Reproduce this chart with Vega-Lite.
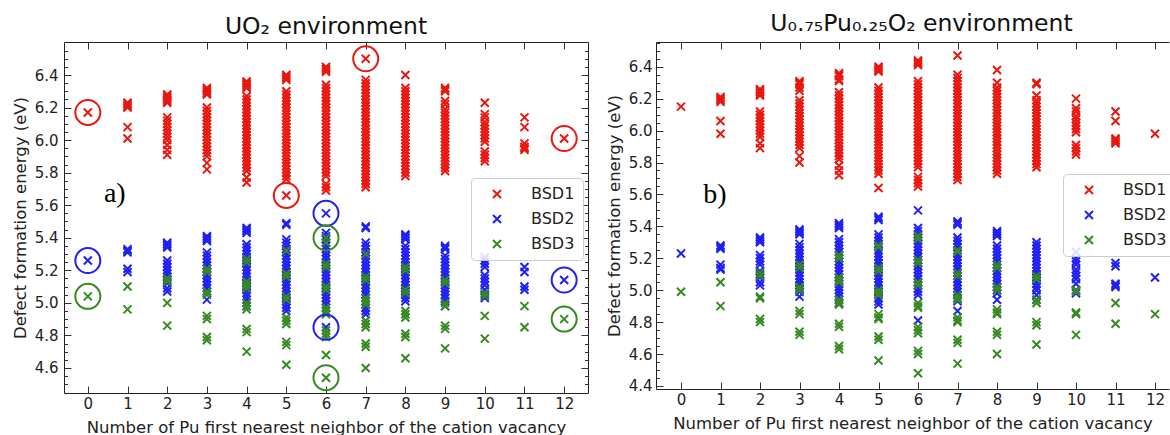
{
  "$schema": "https://vega.github.io/schema/vega-lite/v6.json",
  "background": "white",
  "padding": {"left": 12, "top": 12, "right": 0, "bottom": 0},
  "autosize": {"type": "pad"},
  "bounds": "flush",
  "spacing": 68,
  "config": {
    "view": {"stroke": null},
    "font": "DejaVu Sans",
    "axis": {"domainColor": "#222", "domainWidth": 1, "tickColor": "#333", "tickWidth": 1, "labelColor": "#222", "titleColor": "#222", "grid": false, "labelFont": "DejaVu Sans", "titleFont": "DejaVu Sans", "labelFontSize": 15, "titleFontSize": 16.5, "titleFontWeight": "normal"},
    "title": {"font": "DejaVu Sans", "fontSize": 23.5, "fontWeight": "normal", "color": "#111"},
    "legend": {"labelFont": "DejaVu Sans", "labelFontSize": 16, "labelColor": "#222", "symbolType": "M-1,-1L1,1M-1,1L1,-1", "symbolSize": 64, "symbolStrokeWidth": 2, "fillColor": "rgba(255,255,255,0.85)", "strokeColor": "#cccccc", "cornerRadius": 4, "padding": 8, "rowPadding": 9, "labelOffset": 26, "symbolOffset": 10}
  },
  "resolve": {"scale": {"color": "independent", "stroke": "independent", "x": "independent", "y": "independent"}, "legend": {"color": "independent"}},
  "datasets": {
    "circ": [
      {"s":"BSD1","n":0,"E":6.17},{"s":"BSD1","n":5,"E":5.66},{"s":"BSD1","n":7,"E":6.50},{"s":"BSD1","n":12,"E":6.01},
      {"s":"BSD2","n":0,"E":5.26},{"s":"BSD2","n":6,"E":5.55},{"s":"BSD2","n":6,"E":4.85},{"s":"BSD2","n":12,"E":5.14},
      {"s":"BSD3","n":0,"E":5.04},{"s":"BSD3","n":6,"E":5.40},{"s":"BSD3","n":6,"E":4.54},{"s":"BSD3","n":12,"E":4.90}
    ],
    "labels": [{"t":"a)"}],
    "a": [
      {"s":"BSD1","n":0,"E":6.17},
      {"s":"BSD1","n":1,"E":6.23},{"s":"BSD1","n":1,"E":6.22},{"s":"BSD1","n":1,"E":6.21},{"s":"BSD1","n":1,"E":6.20},{"s":"BSD1","n":1,"E":6.08},{"s":"BSD1","n":1,"E":6.01},
      {"s":"BSD1","n":2,"E":6.28},{"s":"BSD1","n":2,"E":6.27},{"s":"BSD1","n":2,"E":6.26},{"s":"BSD1","n":2,"E":6.25},{"s":"BSD1","n":2,"E":6.24},{"s":"BSD1","n":2,"E":6.23},{"s":"BSD1","n":2,"E":6.14},{"s":"BSD1","n":2,"E":6.12},{"s":"BSD1","n":2,"E":6.10},{"s":"BSD1","n":2,"E":6.08},{"s":"BSD1","n":2,"E":6.06},{"s":"BSD1","n":2,"E":6.04},{"s":"BSD1","n":2,"E":6.02},{"s":"BSD1","n":2,"E":6.00},{"s":"BSD1","n":2,"E":5.97},{"s":"BSD1","n":2,"E":5.94},{"s":"BSD1","n":2,"E":5.91},
      {"s":"BSD1","n":3,"E":6.32},{"s":"BSD1","n":3,"E":6.31},{"s":"BSD1","n":3,"E":6.30},{"s":"BSD1","n":3,"E":6.29},{"s":"BSD1","n":3,"E":6.28},{"s":"BSD1","n":3,"E":6.20},{"s":"BSD1","n":3,"E":6.18},{"s":"BSD1","n":3,"E":6.16},{"s":"BSD1","n":3,"E":6.14},{"s":"BSD1","n":3,"E":6.12},{"s":"BSD1","n":3,"E":6.10},{"s":"BSD1","n":3,"E":6.08},{"s":"BSD1","n":3,"E":6.06},{"s":"BSD1","n":3,"E":6.04},{"s":"BSD1","n":3,"E":6.02},{"s":"BSD1","n":3,"E":6.00},{"s":"BSD1","n":3,"E":5.98},{"s":"BSD1","n":3,"E":5.96},{"s":"BSD1","n":3,"E":5.94},{"s":"BSD1","n":3,"E":5.92},{"s":"BSD1","n":3,"E":5.90},{"s":"BSD1","n":3,"E":5.86},{"s":"BSD1","n":3,"E":5.82},
      {"s":"BSD1","n":4,"E":6.36},{"s":"BSD1","n":4,"E":6.35},{"s":"BSD1","n":4,"E":6.34},{"s":"BSD1","n":4,"E":6.33},{"s":"BSD1","n":4,"E":6.32},{"s":"BSD1","n":4,"E":6.27},{"s":"BSD1","n":4,"E":6.25},{"s":"BSD1","n":4,"E":6.23},{"s":"BSD1","n":4,"E":6.21},{"s":"BSD1","n":4,"E":6.19},{"s":"BSD1","n":4,"E":6.17},{"s":"BSD1","n":4,"E":6.15},{"s":"BSD1","n":4,"E":6.13},{"s":"BSD1","n":4,"E":6.11},{"s":"BSD1","n":4,"E":6.09},{"s":"BSD1","n":4,"E":6.07},{"s":"BSD1","n":4,"E":6.05},{"s":"BSD1","n":4,"E":6.03},{"s":"BSD1","n":4,"E":6.01},{"s":"BSD1","n":4,"E":5.99},{"s":"BSD1","n":4,"E":5.97},{"s":"BSD1","n":4,"E":5.95},{"s":"BSD1","n":4,"E":5.93},{"s":"BSD1","n":4,"E":5.91},{"s":"BSD1","n":4,"E":5.89},{"s":"BSD1","n":4,"E":5.87},{"s":"BSD1","n":4,"E":5.85},{"s":"BSD1","n":4,"E":5.83},{"s":"BSD1","n":4,"E":5.81},{"s":"BSD1","n":4,"E":5.77},{"s":"BSD1","n":4,"E":5.74},
      {"s":"BSD1","n":5,"E":6.40},{"s":"BSD1","n":5,"E":6.39},{"s":"BSD1","n":5,"E":6.38},{"s":"BSD1","n":5,"E":6.37},{"s":"BSD1","n":5,"E":6.30},{"s":"BSD1","n":5,"E":6.28},{"s":"BSD1","n":5,"E":6.26},{"s":"BSD1","n":5,"E":6.24},{"s":"BSD1","n":5,"E":6.22},{"s":"BSD1","n":5,"E":6.20},{"s":"BSD1","n":5,"E":6.18},{"s":"BSD1","n":5,"E":6.16},{"s":"BSD1","n":5,"E":6.14},{"s":"BSD1","n":5,"E":6.12},{"s":"BSD1","n":5,"E":6.10},{"s":"BSD1","n":5,"E":6.08},{"s":"BSD1","n":5,"E":6.06},{"s":"BSD1","n":5,"E":6.04},{"s":"BSD1","n":5,"E":6.02},{"s":"BSD1","n":5,"E":6.00},{"s":"BSD1","n":5,"E":5.98},{"s":"BSD1","n":5,"E":5.96},{"s":"BSD1","n":5,"E":5.94},{"s":"BSD1","n":5,"E":5.92},{"s":"BSD1","n":5,"E":5.90},{"s":"BSD1","n":5,"E":5.88},{"s":"BSD1","n":5,"E":5.86},{"s":"BSD1","n":5,"E":5.84},{"s":"BSD1","n":5,"E":5.82},{"s":"BSD1","n":5,"E":5.80},{"s":"BSD1","n":5,"E":5.78},{"s":"BSD1","n":5,"E":5.76},{"s":"BSD1","n":5,"E":5.66},
      {"s":"BSD1","n":6,"E":6.45},{"s":"BSD1","n":6,"E":6.44},{"s":"BSD1","n":6,"E":6.43},{"s":"BSD1","n":6,"E":6.42},{"s":"BSD1","n":6,"E":6.34},{"s":"BSD1","n":6,"E":6.32},{"s":"BSD1","n":6,"E":6.30},{"s":"BSD1","n":6,"E":6.28},{"s":"BSD1","n":6,"E":6.26},{"s":"BSD1","n":6,"E":6.24},{"s":"BSD1","n":6,"E":6.22},{"s":"BSD1","n":6,"E":6.20},{"s":"BSD1","n":6,"E":6.18},{"s":"BSD1","n":6,"E":6.16},{"s":"BSD1","n":6,"E":6.14},{"s":"BSD1","n":6,"E":6.12},{"s":"BSD1","n":6,"E":6.10},{"s":"BSD1","n":6,"E":6.08},{"s":"BSD1","n":6,"E":6.06},{"s":"BSD1","n":6,"E":6.04},{"s":"BSD1","n":6,"E":6.02},{"s":"BSD1","n":6,"E":6.00},{"s":"BSD1","n":6,"E":5.98},{"s":"BSD1","n":6,"E":5.96},{"s":"BSD1","n":6,"E":5.94},{"s":"BSD1","n":6,"E":5.92},{"s":"BSD1","n":6,"E":5.90},{"s":"BSD1","n":6,"E":5.88},{"s":"BSD1","n":6,"E":5.86},{"s":"BSD1","n":6,"E":5.84},{"s":"BSD1","n":6,"E":5.82},{"s":"BSD1","n":6,"E":5.80},{"s":"BSD1","n":6,"E":5.78},{"s":"BSD1","n":6,"E":5.73},{"s":"BSD1","n":6,"E":5.71},{"s":"BSD1","n":6,"E":5.69},
      {"s":"BSD1","n":7,"E":6.50},{"s":"BSD1","n":7,"E":6.37},{"s":"BSD1","n":7,"E":6.35},{"s":"BSD1","n":7,"E":6.33},{"s":"BSD1","n":7,"E":6.31},{"s":"BSD1","n":7,"E":6.29},{"s":"BSD1","n":7,"E":6.27},{"s":"BSD1","n":7,"E":6.25},{"s":"BSD1","n":7,"E":6.23},{"s":"BSD1","n":7,"E":6.21},{"s":"BSD1","n":7,"E":6.19},{"s":"BSD1","n":7,"E":6.17},{"s":"BSD1","n":7,"E":6.15},{"s":"BSD1","n":7,"E":6.13},{"s":"BSD1","n":7,"E":6.11},{"s":"BSD1","n":7,"E":6.09},{"s":"BSD1","n":7,"E":6.07},{"s":"BSD1","n":7,"E":6.05},{"s":"BSD1","n":7,"E":6.03},{"s":"BSD1","n":7,"E":6.01},{"s":"BSD1","n":7,"E":5.99},{"s":"BSD1","n":7,"E":5.97},{"s":"BSD1","n":7,"E":5.95},{"s":"BSD1","n":7,"E":5.93},{"s":"BSD1","n":7,"E":5.91},{"s":"BSD1","n":7,"E":5.89},{"s":"BSD1","n":7,"E":5.87},{"s":"BSD1","n":7,"E":5.85},{"s":"BSD1","n":7,"E":5.83},{"s":"BSD1","n":7,"E":5.81},{"s":"BSD1","n":7,"E":5.79},{"s":"BSD1","n":7,"E":5.77},{"s":"BSD1","n":7,"E":5.75},{"s":"BSD1","n":7,"E":5.73},{"s":"BSD1","n":7,"E":5.71},
      {"s":"BSD1","n":8,"E":6.40},{"s":"BSD1","n":8,"E":6.32},{"s":"BSD1","n":8,"E":6.30},{"s":"BSD1","n":8,"E":6.28},{"s":"BSD1","n":8,"E":6.26},{"s":"BSD1","n":8,"E":6.24},{"s":"BSD1","n":8,"E":6.22},{"s":"BSD1","n":8,"E":6.20},{"s":"BSD1","n":8,"E":6.18},{"s":"BSD1","n":8,"E":6.16},{"s":"BSD1","n":8,"E":6.14},{"s":"BSD1","n":8,"E":6.12},{"s":"BSD1","n":8,"E":6.10},{"s":"BSD1","n":8,"E":6.08},{"s":"BSD1","n":8,"E":6.06},{"s":"BSD1","n":8,"E":6.04},{"s":"BSD1","n":8,"E":6.02},{"s":"BSD1","n":8,"E":6.00},{"s":"BSD1","n":8,"E":5.98},{"s":"BSD1","n":8,"E":5.96},{"s":"BSD1","n":8,"E":5.94},{"s":"BSD1","n":8,"E":5.92},{"s":"BSD1","n":8,"E":5.90},{"s":"BSD1","n":8,"E":5.88},{"s":"BSD1","n":8,"E":5.86},{"s":"BSD1","n":8,"E":5.84},{"s":"BSD1","n":8,"E":5.82},{"s":"BSD1","n":8,"E":5.80},{"s":"BSD1","n":8,"E":5.78},
      {"s":"BSD1","n":9,"E":6.32},{"s":"BSD1","n":9,"E":6.31},{"s":"BSD1","n":9,"E":6.30},{"s":"BSD1","n":9,"E":6.24},{"s":"BSD1","n":9,"E":6.22},{"s":"BSD1","n":9,"E":6.19},{"s":"BSD1","n":9,"E":6.17},{"s":"BSD1","n":9,"E":6.15},{"s":"BSD1","n":9,"E":6.13},{"s":"BSD1","n":9,"E":6.11},{"s":"BSD1","n":9,"E":6.09},{"s":"BSD1","n":9,"E":6.07},{"s":"BSD1","n":9,"E":6.05},{"s":"BSD1","n":9,"E":6.03},{"s":"BSD1","n":9,"E":6.01},{"s":"BSD1","n":9,"E":5.99},{"s":"BSD1","n":9,"E":5.97},{"s":"BSD1","n":9,"E":5.95},{"s":"BSD1","n":9,"E":5.93},{"s":"BSD1","n":9,"E":5.91},{"s":"BSD1","n":9,"E":5.89},{"s":"BSD1","n":9,"E":5.87},{"s":"BSD1","n":9,"E":5.85},{"s":"BSD1","n":9,"E":5.83},{"s":"BSD1","n":9,"E":5.81},
      {"s":"BSD1","n":10,"E":6.23},{"s":"BSD1","n":10,"E":6.16},{"s":"BSD1","n":10,"E":6.14},{"s":"BSD1","n":10,"E":6.11},{"s":"BSD1","n":10,"E":6.09},{"s":"BSD1","n":10,"E":6.07},{"s":"BSD1","n":10,"E":6.05},{"s":"BSD1","n":10,"E":6.03},{"s":"BSD1","n":10,"E":6.01},{"s":"BSD1","n":10,"E":5.99},{"s":"BSD1","n":10,"E":5.93},{"s":"BSD1","n":10,"E":5.91},{"s":"BSD1","n":10,"E":5.89},{"s":"BSD1","n":10,"E":5.87},
      {"s":"BSD1","n":11,"E":6.14},{"s":"BSD1","n":11,"E":6.08},{"s":"BSD1","n":11,"E":5.98},{"s":"BSD1","n":11,"E":5.96},{"s":"BSD1","n":11,"E":5.95},{"s":"BSD1","n":11,"E":5.94},
      {"s":"BSD1","n":12,"E":6.01},
      {"s":"BSD2","n":0,"E":5.26},
      {"s":"BSD2","n":1,"E":5.33},{"s":"BSD2","n":1,"E":5.32},{"s":"BSD2","n":1,"E":5.31},{"s":"BSD2","n":1,"E":5.21},{"s":"BSD2","n":1,"E":5.19},
      {"s":"BSD2","n":2,"E":5.37},{"s":"BSD2","n":2,"E":5.36},{"s":"BSD2","n":2,"E":5.35},{"s":"BSD2","n":2,"E":5.34},{"s":"BSD2","n":2,"E":5.26},{"s":"BSD2","n":2,"E":5.24},{"s":"BSD2","n":2,"E":5.22},{"s":"BSD2","n":2,"E":5.20},{"s":"BSD2","n":2,"E":5.18},{"s":"BSD2","n":2,"E":5.16},{"s":"BSD2","n":2,"E":5.14},{"s":"BSD2","n":2,"E":5.12},{"s":"BSD2","n":2,"E":5.09},{"s":"BSD2","n":2,"E":5.07},
      {"s":"BSD2","n":3,"E":5.41},{"s":"BSD2","n":3,"E":5.40},{"s":"BSD2","n":3,"E":5.39},{"s":"BSD2","n":3,"E":5.38},{"s":"BSD2","n":3,"E":5.31},{"s":"BSD2","n":3,"E":5.29},{"s":"BSD2","n":3,"E":5.27},{"s":"BSD2","n":3,"E":5.25},{"s":"BSD2","n":3,"E":5.23},{"s":"BSD2","n":3,"E":5.21},{"s":"BSD2","n":3,"E":5.19},{"s":"BSD2","n":3,"E":5.17},{"s":"BSD2","n":3,"E":5.15},{"s":"BSD2","n":3,"E":5.13},{"s":"BSD2","n":3,"E":5.11},{"s":"BSD2","n":3,"E":5.09},{"s":"BSD2","n":3,"E":5.07},{"s":"BSD2","n":3,"E":5.02},
      {"s":"BSD2","n":4,"E":5.46},{"s":"BSD2","n":4,"E":5.45},{"s":"BSD2","n":4,"E":5.44},{"s":"BSD2","n":4,"E":5.43},{"s":"BSD2","n":4,"E":5.36},{"s":"BSD2","n":4,"E":5.34},{"s":"BSD2","n":4,"E":5.32},{"s":"BSD2","n":4,"E":5.30},{"s":"BSD2","n":4,"E":5.28},{"s":"BSD2","n":4,"E":5.26},{"s":"BSD2","n":4,"E":5.24},{"s":"BSD2","n":4,"E":5.22},{"s":"BSD2","n":4,"E":5.20},{"s":"BSD2","n":4,"E":5.18},{"s":"BSD2","n":4,"E":5.16},{"s":"BSD2","n":4,"E":5.14},{"s":"BSD2","n":4,"E":5.12},{"s":"BSD2","n":4,"E":5.10},{"s":"BSD2","n":4,"E":5.08},{"s":"BSD2","n":4,"E":5.06},{"s":"BSD2","n":4,"E":5.04},{"s":"BSD2","n":4,"E":5.02},{"s":"BSD2","n":4,"E":5.00},{"s":"BSD2","n":4,"E":4.98},
      {"s":"BSD2","n":5,"E":5.49},{"s":"BSD2","n":5,"E":5.48},{"s":"BSD2","n":5,"E":5.39},{"s":"BSD2","n":5,"E":5.37},{"s":"BSD2","n":5,"E":5.35},{"s":"BSD2","n":5,"E":5.33},{"s":"BSD2","n":5,"E":5.31},{"s":"BSD2","n":5,"E":5.29},{"s":"BSD2","n":5,"E":5.27},{"s":"BSD2","n":5,"E":5.25},{"s":"BSD2","n":5,"E":5.23},{"s":"BSD2","n":5,"E":5.21},{"s":"BSD2","n":5,"E":5.19},{"s":"BSD2","n":5,"E":5.17},{"s":"BSD2","n":5,"E":5.15},{"s":"BSD2","n":5,"E":5.13},{"s":"BSD2","n":5,"E":5.11},{"s":"BSD2","n":5,"E":5.09},{"s":"BSD2","n":5,"E":5.07},{"s":"BSD2","n":5,"E":5.05},{"s":"BSD2","n":5,"E":5.03},{"s":"BSD2","n":5,"E":5.01},{"s":"BSD2","n":5,"E":4.99},{"s":"BSD2","n":5,"E":4.97},{"s":"BSD2","n":5,"E":4.95},
      {"s":"BSD2","n":6,"E":5.55},{"s":"BSD2","n":6,"E":5.43},{"s":"BSD2","n":6,"E":5.41},{"s":"BSD2","n":6,"E":5.39},{"s":"BSD2","n":6,"E":5.37},{"s":"BSD2","n":6,"E":5.35},{"s":"BSD2","n":6,"E":5.33},{"s":"BSD2","n":6,"E":5.31},{"s":"BSD2","n":6,"E":5.29},{"s":"BSD2","n":6,"E":5.27},{"s":"BSD2","n":6,"E":5.25},{"s":"BSD2","n":6,"E":5.23},{"s":"BSD2","n":6,"E":5.21},{"s":"BSD2","n":6,"E":5.19},{"s":"BSD2","n":6,"E":5.17},{"s":"BSD2","n":6,"E":5.15},{"s":"BSD2","n":6,"E":5.13},{"s":"BSD2","n":6,"E":5.11},{"s":"BSD2","n":6,"E":5.09},{"s":"BSD2","n":6,"E":5.07},{"s":"BSD2","n":6,"E":5.05},{"s":"BSD2","n":6,"E":5.03},{"s":"BSD2","n":6,"E":5.01},{"s":"BSD2","n":6,"E":4.99},{"s":"BSD2","n":6,"E":4.97},{"s":"BSD2","n":6,"E":4.85},
      {"s":"BSD2","n":7,"E":5.47},{"s":"BSD2","n":7,"E":5.46},{"s":"BSD2","n":7,"E":5.37},{"s":"BSD2","n":7,"E":5.35},{"s":"BSD2","n":7,"E":5.33},{"s":"BSD2","n":7,"E":5.31},{"s":"BSD2","n":7,"E":5.29},{"s":"BSD2","n":7,"E":5.27},{"s":"BSD2","n":7,"E":5.25},{"s":"BSD2","n":7,"E":5.23},{"s":"BSD2","n":7,"E":5.21},{"s":"BSD2","n":7,"E":5.19},{"s":"BSD2","n":7,"E":5.17},{"s":"BSD2","n":7,"E":5.15},{"s":"BSD2","n":7,"E":5.13},{"s":"BSD2","n":7,"E":5.11},{"s":"BSD2","n":7,"E":5.09},{"s":"BSD2","n":7,"E":5.07},{"s":"BSD2","n":7,"E":5.05},{"s":"BSD2","n":7,"E":5.03},{"s":"BSD2","n":7,"E":5.01},{"s":"BSD2","n":7,"E":4.99},{"s":"BSD2","n":7,"E":4.97},{"s":"BSD2","n":7,"E":4.95},{"s":"BSD2","n":7,"E":4.93},
      {"s":"BSD2","n":8,"E":5.42},{"s":"BSD2","n":8,"E":5.41},{"s":"BSD2","n":8,"E":5.40},{"s":"BSD2","n":8,"E":5.39},{"s":"BSD2","n":8,"E":5.35},{"s":"BSD2","n":8,"E":5.33},{"s":"BSD2","n":8,"E":5.31},{"s":"BSD2","n":8,"E":5.29},{"s":"BSD2","n":8,"E":5.27},{"s":"BSD2","n":8,"E":5.25},{"s":"BSD2","n":8,"E":5.23},{"s":"BSD2","n":8,"E":5.21},{"s":"BSD2","n":8,"E":5.19},{"s":"BSD2","n":8,"E":5.17},{"s":"BSD2","n":8,"E":5.15},{"s":"BSD2","n":8,"E":5.13},{"s":"BSD2","n":8,"E":5.11},{"s":"BSD2","n":8,"E":5.09},{"s":"BSD2","n":8,"E":5.07},{"s":"BSD2","n":8,"E":5.05},{"s":"BSD2","n":8,"E":5.03},{"s":"BSD2","n":8,"E":5.01},
      {"s":"BSD2","n":9,"E":5.35},{"s":"BSD2","n":9,"E":5.34},{"s":"BSD2","n":9,"E":5.33},{"s":"BSD2","n":9,"E":5.29},{"s":"BSD2","n":9,"E":5.27},{"s":"BSD2","n":9,"E":5.25},{"s":"BSD2","n":9,"E":5.23},{"s":"BSD2","n":9,"E":5.21},{"s":"BSD2","n":9,"E":5.19},{"s":"BSD2","n":9,"E":5.17},{"s":"BSD2","n":9,"E":5.15},{"s":"BSD2","n":9,"E":5.13},{"s":"BSD2","n":9,"E":5.11},{"s":"BSD2","n":9,"E":5.09},{"s":"BSD2","n":9,"E":5.07},{"s":"BSD2","n":9,"E":5.05},{"s":"BSD2","n":9,"E":5.03},{"s":"BSD2","n":9,"E":5.01},{"s":"BSD2","n":9,"E":4.98},
      {"s":"BSD2","n":10,"E":5.28},{"s":"BSD2","n":10,"E":5.26},{"s":"BSD2","n":10,"E":5.24},{"s":"BSD2","n":10,"E":5.22},{"s":"BSD2","n":10,"E":5.17},{"s":"BSD2","n":10,"E":5.15},{"s":"BSD2","n":10,"E":5.13},{"s":"BSD2","n":10,"E":5.11},{"s":"BSD2","n":10,"E":5.08},{"s":"BSD2","n":10,"E":5.05},{"s":"BSD2","n":10,"E":5.03},
      {"s":"BSD2","n":11,"E":5.22},{"s":"BSD2","n":11,"E":5.19},{"s":"BSD2","n":11,"E":5.10},{"s":"BSD2","n":11,"E":5.08},
      {"s":"BSD2","n":12,"E":5.14},
      {"s":"BSD3","n":0,"E":5.04},
      {"s":"BSD3","n":1,"E":5.10},{"s":"BSD3","n":1,"E":4.96},
      {"s":"BSD3","n":2,"E":5.15},{"s":"BSD3","n":2,"E":5.13},{"s":"BSD3","n":2,"E":5.00},{"s":"BSD3","n":2,"E":4.86},
      {"s":"BSD3","n":3,"E":5.21},{"s":"BSD3","n":3,"E":5.19},{"s":"BSD3","n":3,"E":5.07},{"s":"BSD3","n":3,"E":5.05},{"s":"BSD3","n":3,"E":4.92},{"s":"BSD3","n":3,"E":4.90},{"s":"BSD3","n":3,"E":4.79},{"s":"BSD3","n":3,"E":4.77},
      {"s":"BSD3","n":4,"E":5.27},{"s":"BSD3","n":4,"E":5.25},{"s":"BSD3","n":4,"E":5.13},{"s":"BSD3","n":4,"E":5.11},{"s":"BSD3","n":4,"E":5.09},{"s":"BSD3","n":4,"E":5.00},{"s":"BSD3","n":4,"E":4.98},{"s":"BSD3","n":4,"E":4.96},{"s":"BSD3","n":4,"E":4.84},{"s":"BSD3","n":4,"E":4.82},{"s":"BSD3","n":4,"E":4.70},
      {"s":"BSD3","n":5,"E":5.32},{"s":"BSD3","n":5,"E":5.18},{"s":"BSD3","n":5,"E":5.16},{"s":"BSD3","n":5,"E":5.04},{"s":"BSD3","n":5,"E":5.02},{"s":"BSD3","n":5,"E":4.91},{"s":"BSD3","n":5,"E":4.89},{"s":"BSD3","n":5,"E":4.87},{"s":"BSD3","n":5,"E":4.76},{"s":"BSD3","n":5,"E":4.74},{"s":"BSD3","n":5,"E":4.62},
      {"s":"BSD3","n":6,"E":5.40},{"s":"BSD3","n":6,"E":5.37},{"s":"BSD3","n":6,"E":5.24},{"s":"BSD3","n":6,"E":5.22},{"s":"BSD3","n":6,"E":5.10},{"s":"BSD3","n":6,"E":5.08},{"s":"BSD3","n":6,"E":4.97},{"s":"BSD3","n":6,"E":4.95},{"s":"BSD3","n":6,"E":4.93},{"s":"BSD3","n":6,"E":4.83},{"s":"BSD3","n":6,"E":4.81},{"s":"BSD3","n":6,"E":4.79},{"s":"BSD3","n":6,"E":4.68},{"s":"BSD3","n":6,"E":4.54},
      {"s":"BSD3","n":7,"E":5.30},{"s":"BSD3","n":7,"E":5.16},{"s":"BSD3","n":7,"E":5.14},{"s":"BSD3","n":7,"E":5.03},{"s":"BSD3","n":7,"E":5.01},{"s":"BSD3","n":7,"E":4.99},{"s":"BSD3","n":7,"E":4.89},{"s":"BSD3","n":7,"E":4.87},{"s":"BSD3","n":7,"E":4.85},{"s":"BSD3","n":7,"E":4.75},{"s":"BSD3","n":7,"E":4.73},{"s":"BSD3","n":7,"E":4.60},
      {"s":"BSD3","n":8,"E":5.22},{"s":"BSD3","n":8,"E":5.20},{"s":"BSD3","n":8,"E":5.08},{"s":"BSD3","n":8,"E":5.06},{"s":"BSD3","n":8,"E":4.95},{"s":"BSD3","n":8,"E":4.93},{"s":"BSD3","n":8,"E":4.91},{"s":"BSD3","n":8,"E":4.81},{"s":"BSD3","n":8,"E":4.79},{"s":"BSD3","n":8,"E":4.66},
      {"s":"BSD3","n":9,"E":5.14},{"s":"BSD3","n":9,"E":5.12},{"s":"BSD3","n":9,"E":5.00},{"s":"BSD3","n":9,"E":4.98},{"s":"BSD3","n":9,"E":4.86},{"s":"BSD3","n":9,"E":4.84},{"s":"BSD3","n":9,"E":4.72},
      {"s":"BSD3","n":10,"E":5.06},{"s":"BSD3","n":10,"E":5.04},{"s":"BSD3","n":10,"E":4.92},{"s":"BSD3","n":10,"E":4.78},
      {"s":"BSD3","n":11,"E":4.98},{"s":"BSD3","n":11,"E":4.85},
      {"s":"BSD3","n":12,"E":4.90}
    ],
    "b": [
      {"s":"BSD1","n":0,"E":6.15},
      {"s":"BSD1","n":1,"E":6.21},{"s":"BSD1","n":1,"E":6.20},{"s":"BSD1","n":1,"E":6.19},{"s":"BSD1","n":1,"E":6.18},{"s":"BSD1","n":1,"E":6.06},{"s":"BSD1","n":1,"E":5.98},
      {"s":"BSD1","n":2,"E":6.26},{"s":"BSD1","n":2,"E":6.25},{"s":"BSD1","n":2,"E":6.24},{"s":"BSD1","n":2,"E":6.23},{"s":"BSD1","n":2,"E":6.22},{"s":"BSD1","n":2,"E":6.12},{"s":"BSD1","n":2,"E":6.10},{"s":"BSD1","n":2,"E":6.08},{"s":"BSD1","n":2,"E":6.06},{"s":"BSD1","n":2,"E":6.04},{"s":"BSD1","n":2,"E":6.02},{"s":"BSD1","n":2,"E":6.00},{"s":"BSD1","n":2,"E":5.98},{"s":"BSD1","n":2,"E":5.96},{"s":"BSD1","n":2,"E":5.92},{"s":"BSD1","n":2,"E":5.89},
      {"s":"BSD1","n":3,"E":6.31},{"s":"BSD1","n":3,"E":6.30},{"s":"BSD1","n":3,"E":6.29},{"s":"BSD1","n":3,"E":6.27},{"s":"BSD1","n":3,"E":6.25},{"s":"BSD1","n":3,"E":6.19},{"s":"BSD1","n":3,"E":6.17},{"s":"BSD1","n":3,"E":6.15},{"s":"BSD1","n":3,"E":6.13},{"s":"BSD1","n":3,"E":6.11},{"s":"BSD1","n":3,"E":6.09},{"s":"BSD1","n":3,"E":6.07},{"s":"BSD1","n":3,"E":6.05},{"s":"BSD1","n":3,"E":6.03},{"s":"BSD1","n":3,"E":6.01},{"s":"BSD1","n":3,"E":5.99},{"s":"BSD1","n":3,"E":5.97},{"s":"BSD1","n":3,"E":5.95},{"s":"BSD1","n":3,"E":5.93},{"s":"BSD1","n":3,"E":5.91},{"s":"BSD1","n":3,"E":5.89},{"s":"BSD1","n":3,"E":5.84},{"s":"BSD1","n":3,"E":5.80},
      {"s":"BSD1","n":4,"E":6.36},{"s":"BSD1","n":4,"E":6.35},{"s":"BSD1","n":4,"E":6.34},{"s":"BSD1","n":4,"E":6.32},{"s":"BSD1","n":4,"E":6.31},{"s":"BSD1","n":4,"E":6.24},{"s":"BSD1","n":4,"E":6.22},{"s":"BSD1","n":4,"E":6.20},{"s":"BSD1","n":4,"E":6.18},{"s":"BSD1","n":4,"E":6.16},{"s":"BSD1","n":4,"E":6.14},{"s":"BSD1","n":4,"E":6.12},{"s":"BSD1","n":4,"E":6.10},{"s":"BSD1","n":4,"E":6.08},{"s":"BSD1","n":4,"E":6.06},{"s":"BSD1","n":4,"E":6.04},{"s":"BSD1","n":4,"E":6.02},{"s":"BSD1","n":4,"E":6.00},{"s":"BSD1","n":4,"E":5.98},{"s":"BSD1","n":4,"E":5.96},{"s":"BSD1","n":4,"E":5.94},{"s":"BSD1","n":4,"E":5.92},{"s":"BSD1","n":4,"E":5.90},{"s":"BSD1","n":4,"E":5.88},{"s":"BSD1","n":4,"E":5.86},{"s":"BSD1","n":4,"E":5.84},{"s":"BSD1","n":4,"E":5.82},{"s":"BSD1","n":4,"E":5.78},{"s":"BSD1","n":4,"E":5.75},{"s":"BSD1","n":4,"E":5.72},
      {"s":"BSD1","n":5,"E":6.40},{"s":"BSD1","n":5,"E":6.39},{"s":"BSD1","n":5,"E":6.38},{"s":"BSD1","n":5,"E":6.37},{"s":"BSD1","n":5,"E":6.27},{"s":"BSD1","n":5,"E":6.25},{"s":"BSD1","n":5,"E":6.23},{"s":"BSD1","n":5,"E":6.21},{"s":"BSD1","n":5,"E":6.19},{"s":"BSD1","n":5,"E":6.17},{"s":"BSD1","n":5,"E":6.15},{"s":"BSD1","n":5,"E":6.13},{"s":"BSD1","n":5,"E":6.11},{"s":"BSD1","n":5,"E":6.09},{"s":"BSD1","n":5,"E":6.07},{"s":"BSD1","n":5,"E":6.05},{"s":"BSD1","n":5,"E":6.03},{"s":"BSD1","n":5,"E":6.01},{"s":"BSD1","n":5,"E":5.99},{"s":"BSD1","n":5,"E":5.97},{"s":"BSD1","n":5,"E":5.95},{"s":"BSD1","n":5,"E":5.93},{"s":"BSD1","n":5,"E":5.91},{"s":"BSD1","n":5,"E":5.89},{"s":"BSD1","n":5,"E":5.87},{"s":"BSD1","n":5,"E":5.85},{"s":"BSD1","n":5,"E":5.83},{"s":"BSD1","n":5,"E":5.81},{"s":"BSD1","n":5,"E":5.79},{"s":"BSD1","n":5,"E":5.77},{"s":"BSD1","n":5,"E":5.75},{"s":"BSD1","n":5,"E":5.73},{"s":"BSD1","n":5,"E":5.64},
      {"s":"BSD1","n":6,"E":6.44},{"s":"BSD1","n":6,"E":6.43},{"s":"BSD1","n":6,"E":6.42},{"s":"BSD1","n":6,"E":6.41},{"s":"BSD1","n":6,"E":6.31},{"s":"BSD1","n":6,"E":6.29},{"s":"BSD1","n":6,"E":6.27},{"s":"BSD1","n":6,"E":6.25},{"s":"BSD1","n":6,"E":6.23},{"s":"BSD1","n":6,"E":6.21},{"s":"BSD1","n":6,"E":6.19},{"s":"BSD1","n":6,"E":6.17},{"s":"BSD1","n":6,"E":6.15},{"s":"BSD1","n":6,"E":6.13},{"s":"BSD1","n":6,"E":6.11},{"s":"BSD1","n":6,"E":6.09},{"s":"BSD1","n":6,"E":6.07},{"s":"BSD1","n":6,"E":6.05},{"s":"BSD1","n":6,"E":6.03},{"s":"BSD1","n":6,"E":6.01},{"s":"BSD1","n":6,"E":5.99},{"s":"BSD1","n":6,"E":5.97},{"s":"BSD1","n":6,"E":5.95},{"s":"BSD1","n":6,"E":5.93},{"s":"BSD1","n":6,"E":5.91},{"s":"BSD1","n":6,"E":5.89},{"s":"BSD1","n":6,"E":5.87},{"s":"BSD1","n":6,"E":5.85},{"s":"BSD1","n":6,"E":5.83},{"s":"BSD1","n":6,"E":5.81},{"s":"BSD1","n":6,"E":5.79},{"s":"BSD1","n":6,"E":5.77},{"s":"BSD1","n":6,"E":5.71},{"s":"BSD1","n":6,"E":5.69},{"s":"BSD1","n":6,"E":5.67},{"s":"BSD1","n":6,"E":5.65},
      {"s":"BSD1","n":7,"E":6.47},{"s":"BSD1","n":7,"E":6.35},{"s":"BSD1","n":7,"E":6.33},{"s":"BSD1","n":7,"E":6.31},{"s":"BSD1","n":7,"E":6.29},{"s":"BSD1","n":7,"E":6.27},{"s":"BSD1","n":7,"E":6.25},{"s":"BSD1","n":7,"E":6.23},{"s":"BSD1","n":7,"E":6.21},{"s":"BSD1","n":7,"E":6.19},{"s":"BSD1","n":7,"E":6.17},{"s":"BSD1","n":7,"E":6.15},{"s":"BSD1","n":7,"E":6.13},{"s":"BSD1","n":7,"E":6.11},{"s":"BSD1","n":7,"E":6.09},{"s":"BSD1","n":7,"E":6.07},{"s":"BSD1","n":7,"E":6.05},{"s":"BSD1","n":7,"E":6.03},{"s":"BSD1","n":7,"E":6.01},{"s":"BSD1","n":7,"E":5.99},{"s":"BSD1","n":7,"E":5.97},{"s":"BSD1","n":7,"E":5.95},{"s":"BSD1","n":7,"E":5.93},{"s":"BSD1","n":7,"E":5.91},{"s":"BSD1","n":7,"E":5.89},{"s":"BSD1","n":7,"E":5.87},{"s":"BSD1","n":7,"E":5.85},{"s":"BSD1","n":7,"E":5.83},{"s":"BSD1","n":7,"E":5.81},{"s":"BSD1","n":7,"E":5.79},{"s":"BSD1","n":7,"E":5.77},{"s":"BSD1","n":7,"E":5.75},{"s":"BSD1","n":7,"E":5.73},{"s":"BSD1","n":7,"E":5.71},{"s":"BSD1","n":7,"E":5.69},
      {"s":"BSD1","n":8,"E":6.38},{"s":"BSD1","n":8,"E":6.30},{"s":"BSD1","n":8,"E":6.27},{"s":"BSD1","n":8,"E":6.25},{"s":"BSD1","n":8,"E":6.23},{"s":"BSD1","n":8,"E":6.21},{"s":"BSD1","n":8,"E":6.19},{"s":"BSD1","n":8,"E":6.17},{"s":"BSD1","n":8,"E":6.15},{"s":"BSD1","n":8,"E":6.13},{"s":"BSD1","n":8,"E":6.11},{"s":"BSD1","n":8,"E":6.09},{"s":"BSD1","n":8,"E":6.07},{"s":"BSD1","n":8,"E":6.05},{"s":"BSD1","n":8,"E":6.03},{"s":"BSD1","n":8,"E":6.01},{"s":"BSD1","n":8,"E":5.99},{"s":"BSD1","n":8,"E":5.97},{"s":"BSD1","n":8,"E":5.95},{"s":"BSD1","n":8,"E":5.93},{"s":"BSD1","n":8,"E":5.91},{"s":"BSD1","n":8,"E":5.89},{"s":"BSD1","n":8,"E":5.87},{"s":"BSD1","n":8,"E":5.85},{"s":"BSD1","n":8,"E":5.83},{"s":"BSD1","n":8,"E":5.81},{"s":"BSD1","n":8,"E":5.79},{"s":"BSD1","n":8,"E":5.77},{"s":"BSD1","n":8,"E":5.75},{"s":"BSD1","n":8,"E":5.73},
      {"s":"BSD1","n":9,"E":6.30},{"s":"BSD1","n":9,"E":6.29},{"s":"BSD1","n":9,"E":6.22},{"s":"BSD1","n":9,"E":6.19},{"s":"BSD1","n":9,"E":6.17},{"s":"BSD1","n":9,"E":6.15},{"s":"BSD1","n":9,"E":6.13},{"s":"BSD1","n":9,"E":6.11},{"s":"BSD1","n":9,"E":6.09},{"s":"BSD1","n":9,"E":6.07},{"s":"BSD1","n":9,"E":6.05},{"s":"BSD1","n":9,"E":6.03},{"s":"BSD1","n":9,"E":6.01},{"s":"BSD1","n":9,"E":5.99},{"s":"BSD1","n":9,"E":5.97},{"s":"BSD1","n":9,"E":5.95},{"s":"BSD1","n":9,"E":5.93},{"s":"BSD1","n":9,"E":5.91},{"s":"BSD1","n":9,"E":5.89},{"s":"BSD1","n":9,"E":5.87},{"s":"BSD1","n":9,"E":5.85},{"s":"BSD1","n":9,"E":5.83},{"s":"BSD1","n":9,"E":5.81},{"s":"BSD1","n":9,"E":5.79},{"s":"BSD1","n":9,"E":5.77},
      {"s":"BSD1","n":10,"E":6.20},{"s":"BSD1","n":10,"E":6.14},{"s":"BSD1","n":10,"E":6.12},{"s":"BSD1","n":10,"E":6.09},{"s":"BSD1","n":10,"E":6.07},{"s":"BSD1","n":10,"E":6.05},{"s":"BSD1","n":10,"E":6.03},{"s":"BSD1","n":10,"E":6.01},{"s":"BSD1","n":10,"E":5.99},{"s":"BSD1","n":10,"E":5.91},{"s":"BSD1","n":10,"E":5.89},{"s":"BSD1","n":10,"E":5.87},{"s":"BSD1","n":10,"E":5.85},
      {"s":"BSD1","n":11,"E":6.12},{"s":"BSD1","n":11,"E":6.06},{"s":"BSD1","n":11,"E":5.95},{"s":"BSD1","n":11,"E":5.94},{"s":"BSD1","n":11,"E":5.93},{"s":"BSD1","n":11,"E":5.92},
      {"s":"BSD1","n":12,"E":5.98},
      {"s":"BSD2","n":0,"E":5.23},
      {"s":"BSD2","n":1,"E":5.28},{"s":"BSD2","n":1,"E":5.27},{"s":"BSD2","n":1,"E":5.26},{"s":"BSD2","n":1,"E":5.16},{"s":"BSD2","n":1,"E":5.14},{"s":"BSD2","n":1,"E":5.13},
      {"s":"BSD2","n":2,"E":5.33},{"s":"BSD2","n":2,"E":5.32},{"s":"BSD2","n":2,"E":5.31},{"s":"BSD2","n":2,"E":5.30},{"s":"BSD2","n":2,"E":5.22},{"s":"BSD2","n":2,"E":5.20},{"s":"BSD2","n":2,"E":5.18},{"s":"BSD2","n":2,"E":5.16},{"s":"BSD2","n":2,"E":5.12},{"s":"BSD2","n":2,"E":5.10},{"s":"BSD2","n":2,"E":5.08},{"s":"BSD2","n":2,"E":5.05},{"s":"BSD2","n":2,"E":5.03},
      {"s":"BSD2","n":3,"E":5.38},{"s":"BSD2","n":3,"E":5.37},{"s":"BSD2","n":3,"E":5.36},{"s":"BSD2","n":3,"E":5.35},{"s":"BSD2","n":3,"E":5.29},{"s":"BSD2","n":3,"E":5.27},{"s":"BSD2","n":3,"E":5.25},{"s":"BSD2","n":3,"E":5.23},{"s":"BSD2","n":3,"E":5.21},{"s":"BSD2","n":3,"E":5.19},{"s":"BSD2","n":3,"E":5.17},{"s":"BSD2","n":3,"E":5.15},{"s":"BSD2","n":3,"E":5.13},{"s":"BSD2","n":3,"E":5.11},{"s":"BSD2","n":3,"E":5.09},{"s":"BSD2","n":3,"E":5.07},{"s":"BSD2","n":3,"E":5.05},{"s":"BSD2","n":3,"E":5.03},{"s":"BSD2","n":3,"E":5.01},{"s":"BSD2","n":3,"E":4.99},{"s":"BSD2","n":3,"E":4.96},
      {"s":"BSD2","n":4,"E":5.42},{"s":"BSD2","n":4,"E":5.41},{"s":"BSD2","n":4,"E":5.40},{"s":"BSD2","n":4,"E":5.39},{"s":"BSD2","n":4,"E":5.32},{"s":"BSD2","n":4,"E":5.30},{"s":"BSD2","n":4,"E":5.28},{"s":"BSD2","n":4,"E":5.26},{"s":"BSD2","n":4,"E":5.24},{"s":"BSD2","n":4,"E":5.22},{"s":"BSD2","n":4,"E":5.20},{"s":"BSD2","n":4,"E":5.18},{"s":"BSD2","n":4,"E":5.16},{"s":"BSD2","n":4,"E":5.14},{"s":"BSD2","n":4,"E":5.12},{"s":"BSD2","n":4,"E":5.10},{"s":"BSD2","n":4,"E":5.08},{"s":"BSD2","n":4,"E":5.06},{"s":"BSD2","n":4,"E":5.04},{"s":"BSD2","n":4,"E":5.02},{"s":"BSD2","n":4,"E":5.00},{"s":"BSD2","n":4,"E":4.98},{"s":"BSD2","n":4,"E":4.96},{"s":"BSD2","n":4,"E":4.94},{"s":"BSD2","n":4,"E":4.92},
      {"s":"BSD2","n":5,"E":5.46},{"s":"BSD2","n":5,"E":5.45},{"s":"BSD2","n":5,"E":5.44},{"s":"BSD2","n":5,"E":5.35},{"s":"BSD2","n":5,"E":5.33},{"s":"BSD2","n":5,"E":5.31},{"s":"BSD2","n":5,"E":5.29},{"s":"BSD2","n":5,"E":5.27},{"s":"BSD2","n":5,"E":5.25},{"s":"BSD2","n":5,"E":5.23},{"s":"BSD2","n":5,"E":5.21},{"s":"BSD2","n":5,"E":5.19},{"s":"BSD2","n":5,"E":5.17},{"s":"BSD2","n":5,"E":5.15},{"s":"BSD2","n":5,"E":5.13},{"s":"BSD2","n":5,"E":5.11},{"s":"BSD2","n":5,"E":5.09},{"s":"BSD2","n":5,"E":5.07},{"s":"BSD2","n":5,"E":5.05},{"s":"BSD2","n":5,"E":5.03},{"s":"BSD2","n":5,"E":5.01},{"s":"BSD2","n":5,"E":4.99},{"s":"BSD2","n":5,"E":4.97},{"s":"BSD2","n":5,"E":4.95},{"s":"BSD2","n":5,"E":4.93},{"s":"BSD2","n":5,"E":4.91},
      {"s":"BSD2","n":6,"E":5.50},{"s":"BSD2","n":6,"E":5.39},{"s":"BSD2","n":6,"E":5.37},{"s":"BSD2","n":6,"E":5.35},{"s":"BSD2","n":6,"E":5.33},{"s":"BSD2","n":6,"E":5.31},{"s":"BSD2","n":6,"E":5.29},{"s":"BSD2","n":6,"E":5.27},{"s":"BSD2","n":6,"E":5.25},{"s":"BSD2","n":6,"E":5.23},{"s":"BSD2","n":6,"E":5.21},{"s":"BSD2","n":6,"E":5.19},{"s":"BSD2","n":6,"E":5.17},{"s":"BSD2","n":6,"E":5.15},{"s":"BSD2","n":6,"E":5.13},{"s":"BSD2","n":6,"E":5.11},{"s":"BSD2","n":6,"E":5.09},{"s":"BSD2","n":6,"E":5.07},{"s":"BSD2","n":6,"E":5.05},{"s":"BSD2","n":6,"E":5.03},{"s":"BSD2","n":6,"E":5.01},{"s":"BSD2","n":6,"E":4.99},{"s":"BSD2","n":6,"E":4.97},{"s":"BSD2","n":6,"E":4.81},
      {"s":"BSD2","n":7,"E":5.43},{"s":"BSD2","n":7,"E":5.42},{"s":"BSD2","n":7,"E":5.41},{"s":"BSD2","n":7,"E":5.33},{"s":"BSD2","n":7,"E":5.31},{"s":"BSD2","n":7,"E":5.29},{"s":"BSD2","n":7,"E":5.27},{"s":"BSD2","n":7,"E":5.25},{"s":"BSD2","n":7,"E":5.23},{"s":"BSD2","n":7,"E":5.21},{"s":"BSD2","n":7,"E":5.19},{"s":"BSD2","n":7,"E":5.17},{"s":"BSD2","n":7,"E":5.15},{"s":"BSD2","n":7,"E":5.13},{"s":"BSD2","n":7,"E":5.11},{"s":"BSD2","n":7,"E":5.09},{"s":"BSD2","n":7,"E":5.07},{"s":"BSD2","n":7,"E":5.05},{"s":"BSD2","n":7,"E":5.03},{"s":"BSD2","n":7,"E":5.01},{"s":"BSD2","n":7,"E":4.99},{"s":"BSD2","n":7,"E":4.97},{"s":"BSD2","n":7,"E":4.95},{"s":"BSD2","n":7,"E":4.93},{"s":"BSD2","n":7,"E":4.87},
      {"s":"BSD2","n":8,"E":5.37},{"s":"BSD2","n":8,"E":5.36},{"s":"BSD2","n":8,"E":5.35},{"s":"BSD2","n":8,"E":5.34},{"s":"BSD2","n":8,"E":5.28},{"s":"BSD2","n":8,"E":5.26},{"s":"BSD2","n":8,"E":5.24},{"s":"BSD2","n":8,"E":5.22},{"s":"BSD2","n":8,"E":5.20},{"s":"BSD2","n":8,"E":5.18},{"s":"BSD2","n":8,"E":5.16},{"s":"BSD2","n":8,"E":5.14},{"s":"BSD2","n":8,"E":5.12},{"s":"BSD2","n":8,"E":5.10},{"s":"BSD2","n":8,"E":5.08},{"s":"BSD2","n":8,"E":5.06},{"s":"BSD2","n":8,"E":5.04},{"s":"BSD2","n":8,"E":5.02},{"s":"BSD2","n":8,"E":5.00},{"s":"BSD2","n":8,"E":4.98},{"s":"BSD2","n":8,"E":4.94},
      {"s":"BSD2","n":9,"E":5.30},{"s":"BSD2","n":9,"E":5.28},{"s":"BSD2","n":9,"E":5.26},{"s":"BSD2","n":9,"E":5.24},{"s":"BSD2","n":9,"E":5.22},{"s":"BSD2","n":9,"E":5.20},{"s":"BSD2","n":9,"E":5.18},{"s":"BSD2","n":9,"E":5.16},{"s":"BSD2","n":9,"E":5.14},{"s":"BSD2","n":9,"E":5.12},{"s":"BSD2","n":9,"E":5.10},{"s":"BSD2","n":9,"E":5.08},{"s":"BSD2","n":9,"E":5.06},{"s":"BSD2","n":9,"E":5.04},{"s":"BSD2","n":9,"E":5.02},{"s":"BSD2","n":9,"E":5.00},{"s":"BSD2","n":9,"E":4.97},{"s":"BSD2","n":9,"E":4.94},
      {"s":"BSD2","n":10,"E":5.24},{"s":"BSD2","n":10,"E":5.20},{"s":"BSD2","n":10,"E":5.18},{"s":"BSD2","n":10,"E":5.16},{"s":"BSD2","n":10,"E":5.13},{"s":"BSD2","n":10,"E":5.11},{"s":"BSD2","n":10,"E":5.09},{"s":"BSD2","n":10,"E":5.07},{"s":"BSD2","n":10,"E":5.04},{"s":"BSD2","n":10,"E":5.00},{"s":"BSD2","n":10,"E":4.98},
      {"s":"BSD2","n":11,"E":5.17},{"s":"BSD2","n":11,"E":5.15},{"s":"BSD2","n":11,"E":5.04},{"s":"BSD2","n":11,"E":5.03},{"s":"BSD2","n":11,"E":5.02},
      {"s":"BSD2","n":12,"E":5.08},
      {"s":"BSD3","n":0,"E":4.99},
      {"s":"BSD3","n":1,"E":5.05},{"s":"BSD3","n":1,"E":4.90},
      {"s":"BSD3","n":2,"E":5.11},{"s":"BSD3","n":2,"E":5.09},{"s":"BSD3","n":2,"E":4.96},{"s":"BSD3","n":2,"E":4.95},{"s":"BSD3","n":2,"E":4.82},{"s":"BSD3","n":2,"E":4.80},
      {"s":"BSD3","n":3,"E":5.16},{"s":"BSD3","n":3,"E":5.14},{"s":"BSD3","n":3,"E":5.02},{"s":"BSD3","n":3,"E":5.00},{"s":"BSD3","n":3,"E":4.87},{"s":"BSD3","n":3,"E":4.85},{"s":"BSD3","n":3,"E":4.74},{"s":"BSD3","n":3,"E":4.72},
      {"s":"BSD3","n":4,"E":5.22},{"s":"BSD3","n":4,"E":5.20},{"s":"BSD3","n":4,"E":5.08},{"s":"BSD3","n":4,"E":5.06},{"s":"BSD3","n":4,"E":5.05},{"s":"BSD3","n":4,"E":4.94},{"s":"BSD3","n":4,"E":4.92},{"s":"BSD3","n":4,"E":4.91},{"s":"BSD3","n":4,"E":4.79},{"s":"BSD3","n":4,"E":4.77},{"s":"BSD3","n":4,"E":4.65},{"s":"BSD3","n":4,"E":4.63},
      {"s":"BSD3","n":5,"E":5.28},{"s":"BSD3","n":5,"E":5.27},{"s":"BSD3","n":5,"E":5.14},{"s":"BSD3","n":5,"E":5.12},{"s":"BSD3","n":5,"E":5.00},{"s":"BSD3","n":5,"E":4.98},{"s":"BSD3","n":5,"E":4.97},{"s":"BSD3","n":5,"E":4.85},{"s":"BSD3","n":5,"E":4.83},{"s":"BSD3","n":5,"E":4.82},{"s":"BSD3","n":5,"E":4.71},{"s":"BSD3","n":5,"E":4.69},{"s":"BSD3","n":5,"E":4.56},
      {"s":"BSD3","n":6,"E":5.34},{"s":"BSD3","n":6,"E":5.32},{"s":"BSD3","n":6,"E":5.19},{"s":"BSD3","n":6,"E":5.17},{"s":"BSD3","n":6,"E":5.05},{"s":"BSD3","n":6,"E":5.03},{"s":"BSD3","n":6,"E":4.92},{"s":"BSD3","n":6,"E":4.90},{"s":"BSD3","n":6,"E":4.89},{"s":"BSD3","n":6,"E":4.77},{"s":"BSD3","n":6,"E":4.75},{"s":"BSD3","n":6,"E":4.73},{"s":"BSD3","n":6,"E":4.62},{"s":"BSD3","n":6,"E":4.60},{"s":"BSD3","n":6,"E":4.48},
      {"s":"BSD3","n":7,"E":5.25},{"s":"BSD3","n":7,"E":5.24},{"s":"BSD3","n":7,"E":5.11},{"s":"BSD3","n":7,"E":5.09},{"s":"BSD3","n":7,"E":4.97},{"s":"BSD3","n":7,"E":4.95},{"s":"BSD3","n":7,"E":4.94},{"s":"BSD3","n":7,"E":4.83},{"s":"BSD3","n":7,"E":4.81},{"s":"BSD3","n":7,"E":4.80},{"s":"BSD3","n":7,"E":4.69},{"s":"BSD3","n":7,"E":4.67},{"s":"BSD3","n":7,"E":4.54},
      {"s":"BSD3","n":8,"E":5.16},{"s":"BSD3","n":8,"E":5.14},{"s":"BSD3","n":8,"E":5.02},{"s":"BSD3","n":8,"E":5.00},{"s":"BSD3","n":8,"E":4.88},{"s":"BSD3","n":8,"E":4.86},{"s":"BSD3","n":8,"E":4.85},{"s":"BSD3","n":8,"E":4.74},{"s":"BSD3","n":8,"E":4.72},{"s":"BSD3","n":8,"E":4.60},
      {"s":"BSD3","n":9,"E":5.09},{"s":"BSD3","n":9,"E":5.07},{"s":"BSD3","n":9,"E":4.94},{"s":"BSD3","n":9,"E":4.92},{"s":"BSD3","n":9,"E":4.80},{"s":"BSD3","n":9,"E":4.78},{"s":"BSD3","n":9,"E":4.66},
      {"s":"BSD3","n":10,"E":5.00},{"s":"BSD3","n":10,"E":4.99},{"s":"BSD3","n":10,"E":4.86},{"s":"BSD3","n":10,"E":4.85},{"s":"BSD3","n":10,"E":4.72},
      {"s":"BSD3","n":11,"E":4.92},{"s":"BSD3","n":11,"E":4.79},
      {"s":"BSD3","n":12,"E":4.85}
    ]
  },
  "hconcat": [
    {
      "width": 524,
      "height": 351,
      "title": {"text": "UO₂ environment", "frame": "group", "baseline": "alphabetic", "offset": -16, "anchor": "middle"},
      "resolve": {"axis": {"x": "independent", "y": "independent"}},
      "layer": [
        {
          "data": {"name": "a"},
          "mark": {"type": "point", "shape": "M-1,-1L1,1M-1,1L1,-1", "filled": false, "size": 64, "strokeWidth": 2, "opacity": 1},
          "encoding": {
            "x": {"field": "n", "type": "quantitative", "scale": {"domain": [-0.6, 12.6], "nice": false, "zero": false},
                  "axis": {"orient": "bottom", "values": [0,1,2,3,4,5,6,7,8,9,10,11,12], "format": "d", "title": "Number of Pu first nearest neighbor of the cation vacancy", "tickSize": -7, "labelPadding": 10, "titlePadding": 8, "domain": true}},
            "y": {"field": "E", "type": "quantitative", "scale": {"domain": [4.446, 6.603], "nice": false, "zero": false},
                  "axis": {"orient": "left", "values": [4.6,4.8,5.0,5.2,5.4,5.6,5.8,6.0,6.2,6.4], "format": ".1f", "title": "Defect formation energy (eV)", "tickSize": -7, "labelPadding": 13, "titlePadding": 6, "domain": true}},
            "color": {"field": "s", "type": "nominal", "scale": {"domain": ["BSD1","BSD2","BSD3"], "range": ["#e8170f","#2020f2","#358a20"]},
                      "legend": {"title": null, "orient": "none", "legendX": 407, "legendY": 136}}
          }
        },
        {
          "data": {"name": "circ"},
          "mark": {"type": "point", "shape": "circle", "filled": false, "size": 625, "strokeWidth": 2, "opacity": 1},
          "encoding": {
            "x": {"field": "n", "type": "quantitative", "scale": {"domain": [-0.6, 12.6], "nice": false, "zero": false},
                  "axis": {"orient": "top", "values": [0,1,2,3,4,5,6,7,8,9,10,11,12], "labels": false, "title": null, "tickSize": -7, "domain": true}},
            "y": {"field": "E", "type": "quantitative", "scale": {"domain": [4.446, 6.603], "nice": false, "zero": false},
                  "axis": {"orient": "right", "values": [4.6,4.8,5.0,5.2,5.4,5.6,5.8,6.0,6.2,6.4], "labels": false, "title": null, "tickSize": -7, "domain": true}},
            "stroke": {"field": "s", "type": "nominal", "scale": {"domain": ["BSD1","BSD2","BSD3"], "range": ["#e8170f","#2020f2","#358a20"]}, "legend": null}
          }
        },
        {
          "data": {"name": "circ"},
          "mark": {"type": "point", "opacity": 0},
          "encoding": {
            "x": {"field": "n", "type": "quantitative", "axis": null},
            "y": {"field": "E", "type": "quantitative",
                  "axis": {"orient": "left", "values": [4.5,4.55,4.6,4.65,4.7,4.75,4.8,4.85,4.9,4.95,5.0,5.05,5.1,5.15,5.2,5.25,5.3,5.35,5.4,5.45,5.5,5.55,5.6,5.65,5.7,5.75,5.8,5.85,5.9,5.95,6.0,6.05,6.1,6.15,6.2,6.25,6.3,6.35,6.4,6.45,6.5,6.55], "labels": false, "title": null, "tickSize": -3.5, "domain": false}}
          }
        },
        {
          "data": {"name": "circ"},
          "mark": {"type": "point", "opacity": 0},
          "encoding": {
            "x": {"field": "n", "type": "quantitative", "axis": null},
            "y": {"field": "E", "type": "quantitative",
                  "axis": {"orient": "right", "values": [4.5,4.55,4.6,4.65,4.7,4.75,4.8,4.85,4.9,4.95,5.0,5.05,5.1,5.15,5.2,5.25,5.3,5.35,5.4,5.45,5.5,5.55,5.6,5.65,5.7,5.75,5.8,5.85,5.9,5.95,6.0,6.05,6.1,6.15,6.2,6.25,6.3,6.35,6.4,6.45,6.5,6.55], "labels": false, "title": null, "tickSize": -3.5, "domain": false}}
          }
        },
        {
          "data": {"name": "labels"},
          "mark": {"type": "text", "text": "a)", "font": "Liberation Serif", "fontSize": 28, "align": "center", "baseline": "alphabetic", "color": "#000"},
          "encoding": {
            "x": {"datum": 0.68, "type": "quantitative", "axis": null},
            "y": {"datum": 5.62, "type": "quantitative", "axis": null}
          }
        }
      ]
    },
    {
      "width": 513,
      "height": 347,
      "title": {"text": "U₀.₇₅Pu₀.₂₅O₂ environment", "frame": "group", "baseline": "alphabetic", "offset": -13, "anchor": "middle", "dx": 9},
      "resolve": {"axis": {"x": "independent", "y": "independent"}},
      "layer": [
        {
          "data": {"name": "b"},
          "mark": {"type": "point", "shape": "M-1,-1L1,1M-1,1L1,-1", "filled": false, "size": 64, "strokeWidth": 2, "opacity": 1},
          "encoding": {
            "x": {"field": "n", "type": "quantitative", "scale": {"domain": [-0.633, 12.354], "nice": false, "zero": false},
                  "axis": {"orient": "bottom", "values": [0,1,2,3,4,5,6,7,8,9,10,11,12], "format": "d", "title": "Number of Pu first nearest neighbor of the cation vacancy", "tickSize": -7, "labelPadding": 10, "titlePadding": 8, "domain": true}},
            "y": {"field": "E", "type": "quantitative", "scale": {"domain": [4.381, 6.555], "nice": false, "zero": false},
                  "axis": {"orient": "left", "values": [4.4,4.6,4.8,5.0,5.2,5.4,5.6,5.8,6.0,6.2,6.4], "format": ".1f", "title": "Defect formation energy (eV)", "tickSize": -7, "labelPadding": 11, "titlePadding": 6, "domain": true}},
            "color": {"field": "s", "type": "nominal", "scale": {"domain": ["BSD1","BSD2","BSD3"], "range": ["#e8170f","#2020f2","#358a20"]},
                      "legend": {"title": null, "orient": "none", "legendX": 407, "legendY": 132}}
          }
        },
        {
          "data": {"name": "circ"},
          "mark": {"type": "point", "opacity": 0},
          "encoding": {
            "x": {"field": "n", "type": "quantitative",
                  "axis": {"orient": "top", "values": [0,1,2,3,4,5,6,7,8,9,10,11,12], "labels": false, "title": null, "tickSize": -7, "domain": true}},
            "y": {"field": "E", "type": "quantitative", "axis": null}
          }
        },
        {
          "data": {"name": "circ"},
          "mark": {"type": "point", "opacity": 0},
          "encoding": {
            "x": {"field": "n", "type": "quantitative", "axis": null},
            "y": {"field": "E", "type": "quantitative",
                  "axis": {"orient": "left", "values": [4.4,4.45,4.5,4.55,4.6,4.65,4.7,4.75,4.8,4.85,4.9,4.95,5.0,5.05,5.1,5.15,5.2,5.25,5.3,5.35,5.4,5.45,5.5,5.55,5.6,5.65,5.7,5.75,5.8,5.85,5.9,5.95,6.0,6.05,6.1,6.15,6.2,6.25,6.3,6.35,6.4,6.45,6.5,6.55], "labels": false, "title": null, "tickSize": -3.5, "domain": false}}
          }
        },
        {
          "data": {"name": "labels"},
          "mark": {"type": "text", "text": "b)", "font": "Liberation Serif", "fontSize": 28, "align": "center", "baseline": "alphabetic", "color": "#000"},
          "encoding": {
            "x": {"datum": 0.86, "type": "quantitative", "axis": null},
            "y": {"datum": 5.547, "type": "quantitative", "axis": null}
          }
        }
      ]
    }
  ]
}
